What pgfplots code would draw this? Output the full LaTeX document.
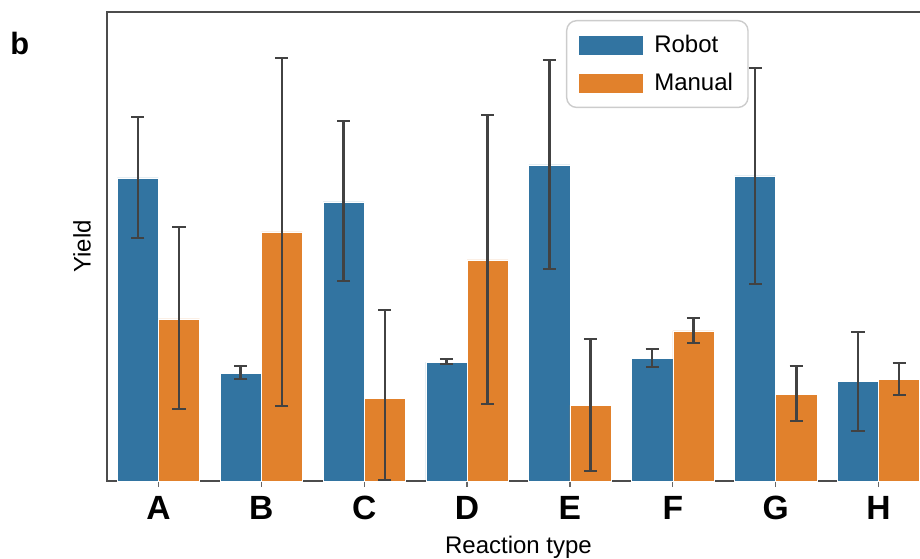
\documentclass[border=0pt]{standalone}
\usepackage{pgfplots}
\pgfplotsset{compat=1.18}
\usepackage{fontspec}
\setmainfont{Liberation Sans}
\definecolor{robot}{HTML}{3274A1}
\definecolor{manual}{HTML}{E1812C}
\definecolor{errc}{HTML}{424242}
\begin{document}
\begin{tikzpicture}
\useasboundingbox (-53.5pt,-38.5pt) rectangle (406.5pt,240.5pt);
\begin{axis}[
  at={(0pt,0pt)}, anchor=south west,
  scale only axis, width=411.5pt, height=234.5pt,
  xmin=-0.5, xmax=7.5, ymin=0, ymax=469,
  xtick={0,1,2,3,4,5,6,7},
  xticklabels={A,B,C,D,E,F,G,H},
  ytick=\empty, xtick pos=bottom,
  tick align=outside, major tick length=3pt,
  tick style={black!60, line width=0.6pt},
  x tick label style={font=\fontsize{16.8}{18}\selectfont\bfseries, yshift=-1pt},
  axis line style={black!70, line width=0.6pt},
  xlabel={Reaction type}, ylabel={Yield},
  label style={font=\fontsize{12}{14}\selectfont},
  xlabel style={at={(axis description cs:0.5,0)}, anchor=north, yshift=-24pt},
  ylabel style={at={(axis description cs:-0.011,0.5)}, anchor=south, rotate=0},
  ybar, bar width=0.4,
  error bars/y dir=both, error bars/y explicit,
  error bars/error bar style={errc, line width=1.25pt},
  error bars/error mark options={errc, rotate=90, mark size=3.3pt, line width=1.25pt},
  legend style={at={(0.5577,0.983)}, anchor=north west, draw=black!20, line width=0.7pt,
    rounded corners=5pt, font=\fontsize{12}{14}\selectfont, inner xsep=5.5pt, inner ysep=5pt,
    row sep=5pt, column sep=3.5pt},
  legend cell align=left,
  legend image code/.code={\fill[#1, sharp corners] (0pt,-5pt) rectangle (32.5pt,5pt);},
]
\addplot[fill=robot, draw=white, line width=0.3pt, bar shift=-0.2] coordinates {
  (0,303) += (0,61) -= (0,60)
  (1,108) += (0,7) -= (0,6)
  (2,279) += (0,81) -= (0,79)
  (3,119) += (0,3) -= (0,2)
  (4,316) += (0,105) -= (0,104)
  (5,123) += (0,9) -= (0,9)
  (6,305) += (0,108) -= (0,108)
  (7,100) += (0,49) -= (0,50)
};
\addlegendentry{Robot}
\addplot[fill=manual, draw=white, line width=0.3pt, bar shift=0.2] coordinates {
  (0,162) += (0,92) -= (0,90)
  (1,249) += (0,174) -= (0,174)
  (2,83) += (0,88) -= (0,82)
  (3,221) += (0,145) -= (0,144)
  (4,76) += (0,66) -= (0,66)
  (5,150) += (0,13) -= (0,12)
  (6,87) += (0,28) -= (0,27)
  (7,102) += (0,16) -= (0,16)
};
\addlegendentry{Manual}
\end{axis}
\node[anchor=base west, font=\fontsize{15.4}{17}\selectfont\bfseries, inner sep=0pt] at (-48.5pt,213pt) {b};
\end{tikzpicture}
\end{document}
